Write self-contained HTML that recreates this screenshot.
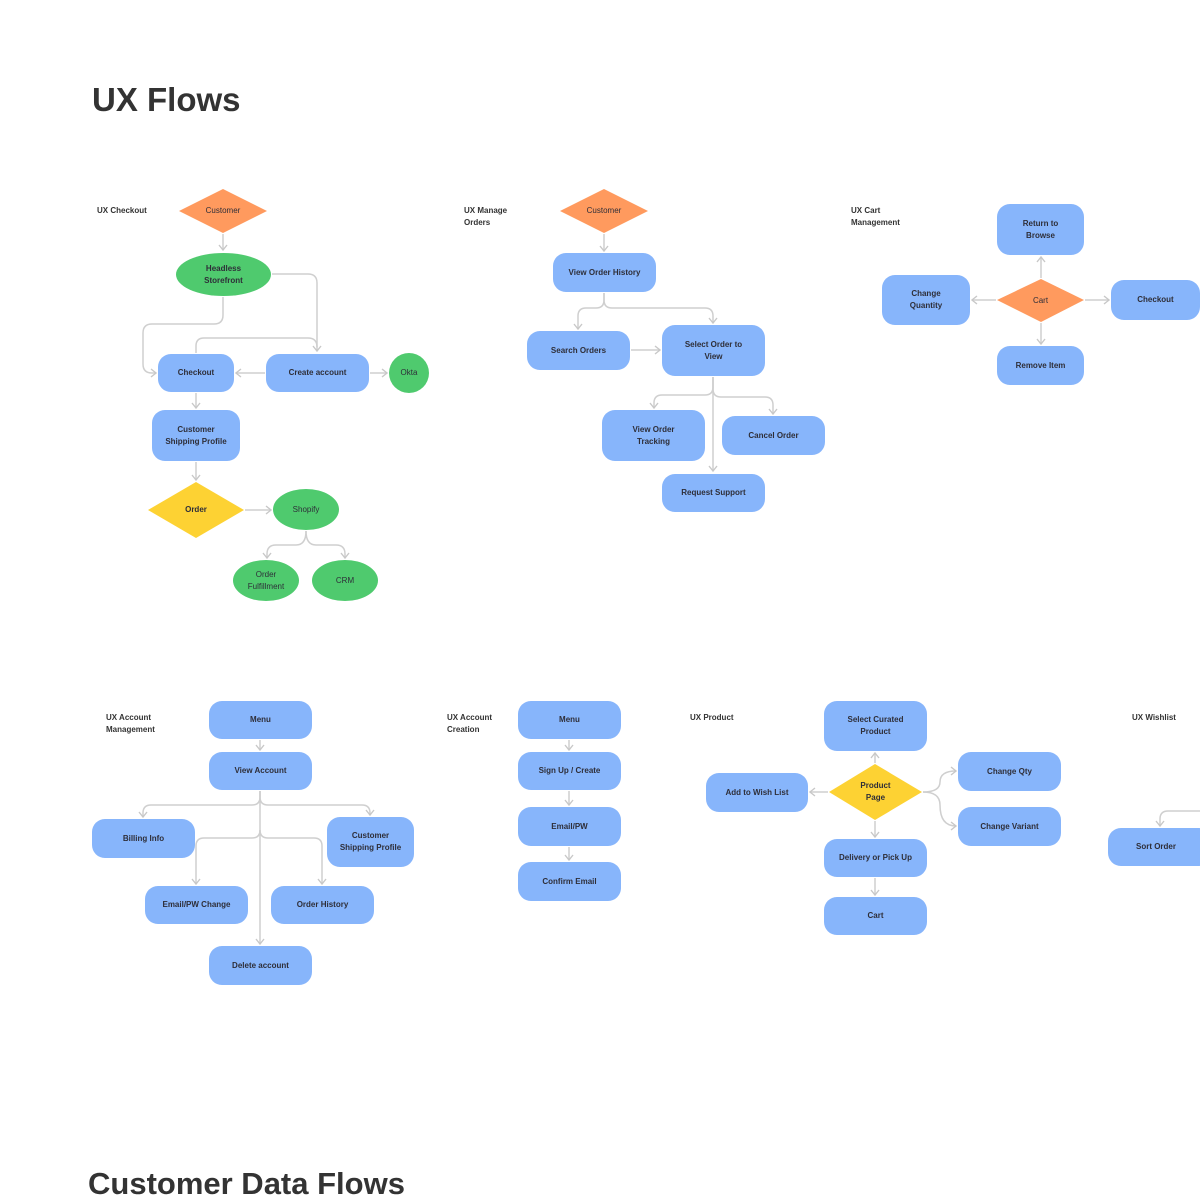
<!DOCTYPE html>
<html><head><meta charset="utf-8"><style>
body{margin:0;background:#fff;width:1200px;height:1203px;position:relative;overflow:hidden;font-family:"Liberation Sans",sans-serif;color:#2e2e38}
.n{position:absolute;display:flex;align-items:center;justify-content:center;text-align:center;font-size:8px;font-weight:bold;line-height:12px;box-sizing:border-box}
.b{background:#87b5fb;border-radius:13px}
.g{background:#4fca6e;border-radius:50%}
.gl{font-weight:normal}
.lb{position:absolute;font-size:8px;font-weight:bold;line-height:12px;color:#333}
h1{position:absolute;margin:0;font-weight:bold;color:#333;white-space:nowrap}
svg{position:absolute;left:0;top:0}
</style></head><body>
<h1 style="left:92px;top:80px;font-size:33px;line-height:40px">UX Flows</h1>
<h1 style="left:88px;top:1164px;font-size:31px;line-height:40px">Customer Data Flows</h1>

<svg width="1200" height="1203">
<defs><marker id="a" markerWidth="10" markerHeight="10" refX="8" refY="5" orient="auto" markerUnits="userSpaceOnUse"><polyline points="3,1 8,5 3,9" fill="none" stroke="#c8c8c8" stroke-width="1.4"/></marker></defs>
<g fill="none" stroke="#cfcfcf" stroke-width="1.5" marker-end="url(#a)">
<!-- diamonds -->
<polygon points="223,189 267,211 223,233 179,211" fill="#ff9a5e" stroke="none" marker-end="none"/>
<polygon points="196,482 244,510 196,538 148,510" fill="#fdd233" stroke="none" marker-end="none"/>
<polygon points="604,189 648,211 604,233 560,211" fill="#ff9a5e" stroke="none" marker-end="none"/>
<polygon points="1041,279 1084,300 1041,322 997,300" fill="#ff9a5e" stroke="none" marker-end="none"/>
<polygon points="875,764 922,792 875,820 829,792" fill="#fdd233" stroke="none" marker-end="none"/>
<!-- checkout -->
<path d="M223 234 V250"/>
<path d="M223 297 V315 Q223 324 214 324 H152 Q143 324 143 333 V364 Q143 373 152 373 H156"/>
<path d="M272 274 H308 Q317 274 317 283 V351"/>
<path d="M196 353 V346 Q196 338 204 338 H308 Q317 338 317 347" marker-end="none"/>
<path d="M265 373 H236"/>
<path d="M370 373 H387"/>
<path d="M196 393 V408"/>
<path d="M196 462 V480"/>
<path d="M245 510 H271"/>
<path d="M306 531 Q306 545 296 545 H276 Q267 545 267 554 V558"/>
<path d="M306 531 Q306 545 316 545 H336 Q345 545 345 554 V558"/>
<!-- manage orders -->
<path d="M604 234 V251"/>
<path d="M604 293 V300 Q604 308 596 308 H586 Q578 308 578 316 V329"/>
<path d="M604 293 V300 Q604 308 612 308 H705 Q713 308 713 316 V323"/>
<path d="M631 350 H660"/>
<path d="M713 377 V471"/>
<path d="M713 377 V387 Q713 395 705 395 H662 Q654 395 654 403 V408"/>
<path d="M713 377 V389 Q713 397 721 397 H765 Q773 397 773 405 V414"/>
<!-- cart -->
<path d="M1041 278 V257"/>
<path d="M996 300 H972"/>
<path d="M1085 300 H1109"/>
<path d="M1041 323 V344"/>
<!-- account mgmt -->
<path d="M260 740 V750"/>
<path d="M260 791 V944"/>
<path d="M260 791 V797 Q260 805 252 805 H151 Q143 805 143 813 V817"/>
<path d="M260 791 V797 Q260 805 268 805 H362 Q370 805 370 813 V815"/>
<path d="M260 830 Q260 838 252 838 H204 Q196 838 196 846 V884"/>
<path d="M260 830 Q260 838 268 838 H314 Q322 838 322 846 V884"/>
<!-- account creation -->
<path d="M569 740 V750"/>
<path d="M569 791 V805"/>
<path d="M569 847 V860"/>
<!-- product -->
<path d="M875 763 V753"/>
<path d="M828 792 H810"/>
<path d="M875 821 V837"/>
<path d="M875 878 V895"/>
<path d="M923 792 Q940 792 940 782 Q940 771 956 771"/>
<path d="M923 792 Q940 792 940 805 Q940 826 956 826"/>
<!-- wishlist -->
<path d="M1200 811 H1168 Q1160 811 1160 819 V826"/>
</g>
</svg>

<div class="lb" style="left:97px;top:205px">UX Checkout</div>
<div class="lb" style="left:464px;top:205px">UX Manage<br>Orders</div>
<div class="lb" style="left:851px;top:205px">UX Cart<br>Management</div>
<div class="lb" style="left:106px;top:712px">UX Account<br>Management</div>
<div class="lb" style="left:447px;top:712px">UX Account<br>Creation</div>
<div class="lb" style="left:690px;top:712px">UX Product</div>
<div class="lb" style="left:1132px;top:712px">UX Wishlist</div>

<div class="n gl" style="left:179px;top:189px;width:88px;height:44px">Customer</div>
<div class="n g" style="left:176px;top:253px;width:95px;height:43px">Headless<br>Storefront</div>
<div class="n b" style="left:158px;top:354px;width:76px;height:38px">Checkout</div>
<div class="n b" style="left:266px;top:354px;width:103px;height:38px">Create account</div>
<div class="n g gl" style="left:389px;top:353px;width:40px;height:40px">Okta</div>
<div class="n b" style="left:152px;top:410px;width:88px;height:51px">Customer<br>Shipping Profile</div>
<div class="n" style="left:148px;top:482px;width:96px;height:56px">Order</div>
<div class="n g gl" style="left:273px;top:489px;width:66px;height:41px">Shopify</div>
<div class="n g gl" style="left:233px;top:560px;width:66px;height:41px">Order<br>Fulfillment</div>
<div class="n g gl" style="left:312px;top:560px;width:66px;height:41px">CRM</div>

<div class="n gl" style="left:560px;top:189px;width:88px;height:44px">Customer</div>
<div class="n b" style="left:553px;top:253px;width:103px;height:39px">View Order History</div>
<div class="n b" style="left:527px;top:331px;width:103px;height:39px">Search Orders</div>
<div class="n b" style="left:662px;top:325px;width:103px;height:51px">Select Order to<br>View</div>
<div class="n b" style="left:602px;top:410px;width:103px;height:51px">View Order<br>Tracking</div>
<div class="n b" style="left:722px;top:416px;width:103px;height:39px">Cancel Order</div>
<div class="n b" style="left:662px;top:474px;width:103px;height:38px">Request Support</div>

<div class="n b" style="left:997px;top:204px;width:87px;height:51px">Return to<br>Browse</div>
<div class="n b" style="left:882px;top:275px;width:88px;height:50px">Change<br>Quantity</div>
<div class="n gl" style="left:997px;top:279px;width:87px;height:43px">Cart</div>
<div class="n b" style="left:1111px;top:280px;width:89px;height:40px">Checkout</div>
<div class="n b" style="left:997px;top:346px;width:87px;height:39px">Remove Item</div>

<div class="n b" style="left:209px;top:701px;width:103px;height:38px">Menu</div>
<div class="n b" style="left:209px;top:752px;width:103px;height:38px">View Account</div>
<div class="n b" style="left:92px;top:819px;width:103px;height:39px">Billing Info</div>
<div class="n b" style="left:327px;top:817px;width:87px;height:50px">Customer<br>Shipping Profile</div>
<div class="n b" style="left:145px;top:886px;width:103px;height:38px">Email/PW Change</div>
<div class="n b" style="left:271px;top:886px;width:103px;height:38px">Order History</div>
<div class="n b" style="left:209px;top:946px;width:103px;height:39px">Delete account</div>

<div class="n b" style="left:518px;top:701px;width:103px;height:38px">Menu</div>
<div class="n b" style="left:518px;top:752px;width:103px;height:38px">Sign Up / Create</div>
<div class="n b" style="left:518px;top:807px;width:103px;height:39px">Email/PW</div>
<div class="n b" style="left:518px;top:862px;width:103px;height:39px">Confirm Email</div>

<div class="n b" style="left:824px;top:701px;width:103px;height:50px">Select Curated<br>Product</div>
<div class="n b" style="left:706px;top:773px;width:102px;height:39px">Add to Wish List</div>
<div class="n" style="left:829px;top:764px;width:93px;height:56px">Product<br>Page</div>
<div class="n b" style="left:958px;top:752px;width:103px;height:39px">Change Qty</div>
<div class="n b" style="left:958px;top:807px;width:103px;height:39px">Change Variant</div>
<div class="n b" style="left:824px;top:839px;width:103px;height:38px">Delivery or Pick Up</div>
<div class="n b" style="left:824px;top:897px;width:103px;height:38px">Cart</div>
<div class="n b" style="left:1108px;top:828px;width:104px;height:38px;padding-right:8px;justify-content:center">Sort Order</div>
</body></html>
